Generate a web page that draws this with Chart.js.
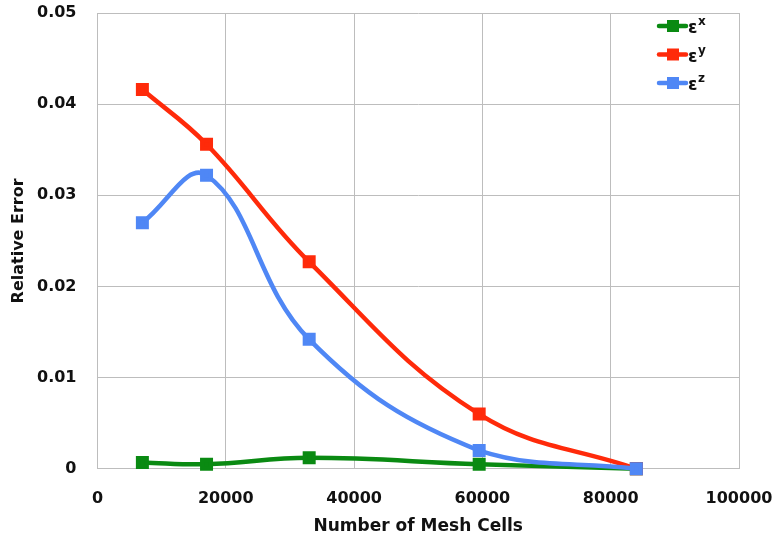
<!DOCTYPE html>
<html>
<head>
<meta charset="utf-8">
<script src="https://cdn.jsdelivr.net/npm/chart.js@4/dist/chart.umd.min.js"></script>
<style>
  html, body { margin: 0; padding: 0; background: #fff; }
  #wrap { width: 775px; height: 543px; }
</style>
</head>
<body>
<div id="wrap"><canvas id="c" width="775" height="543"></canvas></div>
<script>
// Mesh sizes and the relative error per component
const meshCells = [7000, 17000, 33000, 59500, 84000];
const errX = [0.0007, 0.0005, 0.0012, 0.0005, 0.0];
const errY = [0.0416, 0.0356, 0.0227, 0.0060, 0.0];
const errZ = [0.0270, 0.0322, 0.0142, 0.0020, 0.0];
const seriesBase = 'ε';
const seriesSup = ['x', 'y', 'z'];
const xTicks = [0, 20000, 40000, 60000, 80000, 100000];
const yTicks = [0, 0.01, 0.02, 0.03, 0.04, 0.05];
const xTitle = 'Number of Mesh Cells';
const yTitle = 'Relative Error';

const colors = ['#0a8a12', '#ff2a0a', '#4f87f5'];
const FONT = '"DejaVu Sans", sans-serif';

function pts(ys) { return meshCells.map((x, i) => ({ x: x, y: ys[i] })); }

// later series are painted on top of earlier ones
const datasets = [errX, errY, errZ].map((ys, i) => ({
  label: seriesBase + seriesSup[i],
  sup: seriesSup[i],
  data: pts(ys),
  borderColor: colors[i],
  backgroundColor: colors[i],
  borderWidth: 4.5,
  pointStyle: 'rect',
  pointRadius: 6,
  pointHoverRadius: 6,
  tension: 0.4,
  order: 3 - i,
  clip: false
}));

// Legend drawn inside the plot area, top-right corner
const innerLegend = {
  id: 'innerLegend',
  afterDraw(chart) {
    const ctx = chart.ctx;
    const x0 = 659;
    const y0 = 26;
    chart.data.datasets.forEach((ds, i) => {
      const y = y0 + i * 28.5;
      ctx.save();
      ctx.strokeStyle = ds.borderColor;
      ctx.fillStyle = ds.borderColor;
      ctx.lineWidth = 4.5;
      ctx.lineCap = 'round';
      ctx.beginPath();
      ctx.moveTo(x0, y);
      ctx.lineTo(x0 + 27, y);
      ctx.stroke();
      ctx.fillRect(x0 + 14 - 6, y - 6, 12, 12);
      ctx.fillStyle = '#111';
      ctx.textBaseline = 'alphabetic';
      ctx.font = 'bold 17px ' + FONT;
      ctx.fillText(seriesBase, x0 + 29, y + 7);
      const w = ctx.measureText(seriesBase).width;
      ctx.font = 'bold 12px ' + FONT;
      ctx.fillText(ds.sup, x0 + 29 + w + 0.5, y - 1);
      ctx.restore();
    });
  }
};

// Axis titles, placed relative to the plot area
const axisTitles = {
  id: 'axisTitles',
  afterDraw(chart) {
    const ctx = chart.ctx;
    const a = chart.chartArea;
    ctx.save();
    ctx.fillStyle = '#111';
    ctx.textAlign = 'center';
    ctx.textBaseline = 'middle';
    ctx.font = 'bold 17px ' + FONT;
    ctx.fillText(xTitle, (a.left + a.right) / 2, 527);
    ctx.translate(19, (a.top + a.bottom) / 2);
    ctx.rotate(-Math.PI / 2);
    ctx.font = 'bold 16px ' + FONT;
    ctx.fillText(yTitle, 0, 0);
    ctx.restore();
  }
};

// let the layout padding alone decide the plot edges
function noEdgePadding(scale) {
  scale.paddingLeft = 0;
  scale.paddingRight = 0;
  scale.paddingTop = 0;
  scale.paddingBottom = 0;
}

const tickFont = { family: FONT, size: 16, weight: 'bold' };

new Chart(document.getElementById('c'), {
  type: 'line',
  data: { datasets: datasets },
  options: {
    responsive: false,
    animation: false,
    layout: { padding: { left: 16, right: 36, top: 13, bottom: 15 } },
    plugins: {
      legend: { display: false },
      tooltip: { enabled: false }
    },
    scales: {
      x: {
        type: 'linear',
        min: 0,
        max: 100000,
        afterBuildTicks: (s) => { s.ticks = xTicks.map(v => ({ value: v })); },
        afterFit: noEdgePadding,
        ticks: {
          callback: (v) => String(v),
          color: '#111',
          font: tickFont,
          padding: 20,
          maxRotation: 0
        },
        grid: { color: '#bdbdbd', lineWidth: 1, drawTicks: false },
        border: { color: '#bdbdbd' }
      },
      y: {
        min: 0,
        max: 0.05,
        afterBuildTicks: (s) => { s.ticks = yTicks.map(v => ({ value: v })); },
        afterFit: noEdgePadding,
        ticks: {
          callback: (v) => (v === 0 ? '0' : v.toFixed(2)),
          color: '#111',
          font: tickFont,
          padding: 21
        },
        grid: { color: '#bdbdbd', lineWidth: 1, drawTicks: false },
        border: { color: '#bdbdbd' }
      }
    }
  },
  plugins: [innerLegend, axisTitles]
});
</script>
</body>
</html>
